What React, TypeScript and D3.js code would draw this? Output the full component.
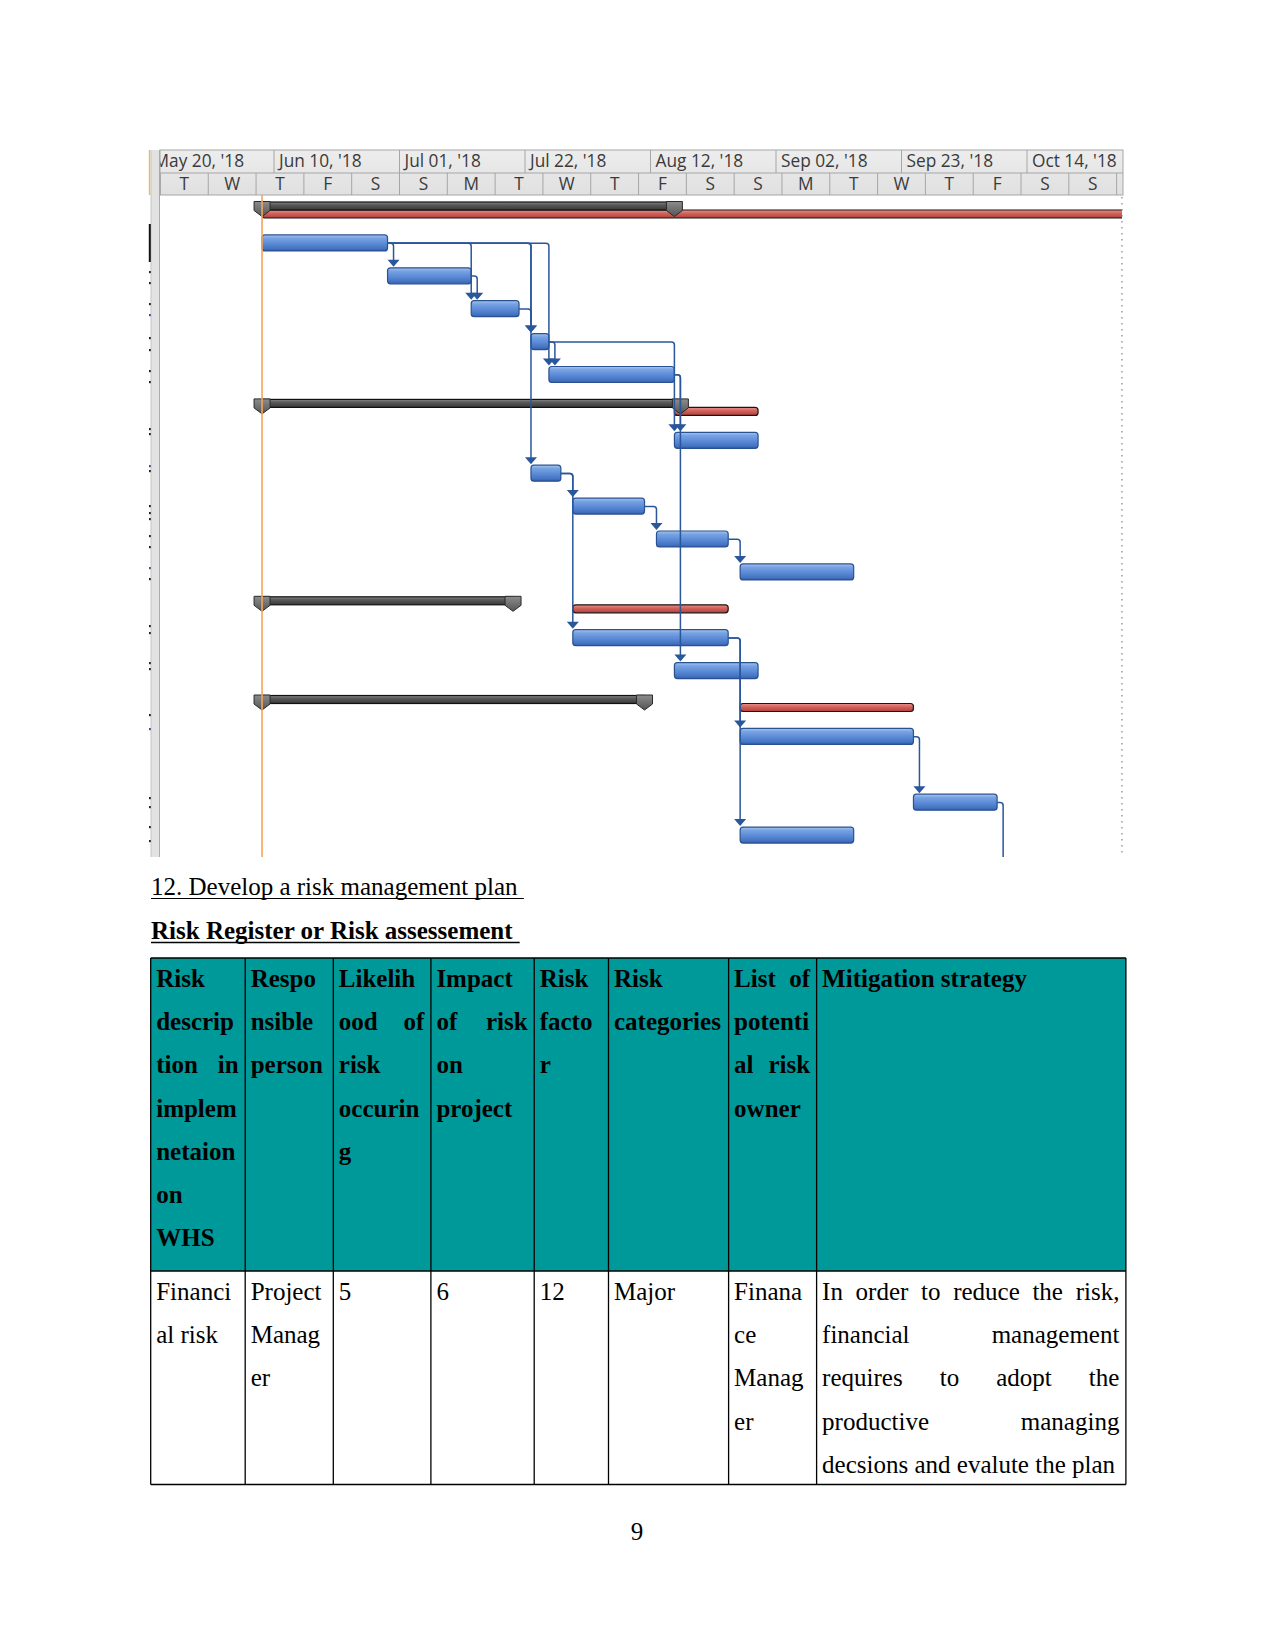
import React from "react";
import * as d3 from "d3";

// ---------- timescale data ----------
const majorTickDates = ["2018-05-20", "2018-06-10", "2018-07-01", "2018-07-22", "2018-08-12", "2018-09-02", "2018-09-23", "2018-10-14"];
const majorTickLabels = ["May 20, '18", "Jun 10, '18", "Jul 01, '18", "Jul 22, '18", "Aug 12, '18", "Sep 02, '18", "Sep 23, '18", "Oct 14, '18"];
const minorTickDates = ["2018-05-22", "2018-05-30", "2018-06-07", "2018-06-15", "2018-06-23", "2018-07-01", "2018-07-09", "2018-07-17", "2018-07-25", "2018-08-02", "2018-08-10", "2018-08-18", "2018-08-26", "2018-09-03", "2018-09-11", "2018-09-19", "2018-09-27", "2018-10-05", "2018-10-13", "2018-10-21", "2018-10-29"];
const minorTickLabels = ["T", "W", "T", "F", "S", "S", "M", "T", "W", "T", "F", "S", "S", "M", "T", "W", "T", "F", "S", "S", "M"];
const statusDate = "2018-06-08";

// ---------- tasks ----------
const taskRows = [1, 2, 3, 4, 5, 7, 8, 9, 10, 11, 13, 14, 16, 18, 19, 21];
const taskStarts = ["2018-06-08", "2018-06-29", "2018-07-13", "2018-07-23", "2018-07-26", "2018-08-16", "2018-07-23", "2018-07-30", "2018-08-13", "2018-08-27", "2018-07-30", "2018-08-16", "2018-08-27", "2018-09-25", "2018-08-27", "2018-10-10"];
const taskEnds = ["2018-06-29", "2018-07-13", "2018-07-21", "2018-07-26", "2018-08-16", "2018-08-30", "2018-07-28", "2018-08-11", "2018-08-25", "2018-09-15", "2018-08-25", "2018-08-30", "2018-09-25", "2018-10-09", "2018-09-15", "2018-10-20"];

// ---------- summary tasks ----------
const summaryRows = [0, 6, 12, 15];
const summaryStarts = ["2018-06-08", "2018-06-08", "2018-06-08", "2018-06-08"];
const summaryEnds = ["2018-08-16", "2018-08-17", "2018-07-20", "2018-08-11"];
const criticalStarts = ["2018-06-08", "2018-08-16", "2018-07-30", "2018-08-27"];
const criticalEnds = ["2018-11-05", "2018-08-30", "2018-08-25", "2018-09-25"];

// ---------- dependency links (predecessor row, successor row) ----------
const linkPreds = [1, 1, 2, 1, 3, 1, 4, 4, 5, 5, 1, 8, 8, 9, 10, 13, 13, 16, 18];
const linkSuccs = [2, 3, 3, 4, 4, 5, 5, 7, 7, 14, 8, 9, 13, 10, 11, 16, 19, 18, 21];

// ---------- table ----------
const headerCells = [
  ["Risk", "descrip", "tion in", "implem", "netaion", "on", "WHS"],
  ["Respo", "nsible", "person"],
  ["Likelih", "ood of", "risk", "occurin", "g"],
  ["Impact", "of risk", "on", "project"],
  ["Risk", "facto", "r"],
  ["Risk", "categories"],
  ["List of", "potenti", "al risk", "owner"],
  ["Mitigation strategy"],
];
const bodyCells = [
  ["Financi", "al risk"],
  ["Project", "Manag", "er"],
  ["5"],
  ["6"],
  ["12"],
  ["Major"],
  ["Finana", "ce", "Manag", "er"],
  ["In order to reduce the risk,", "financial management", "requires to adopt the", "productive managing", "decsions and evalute the plan"],
];
const sectionTitle = "12. Develop a risk management plan";
const tableTitle = "Risk Register or Risk assessement";
const pageNumber = "9";

// ---------- layout ----------
const parse = d3.timeParse("%Y-%m-%d");
const GX0 = 160, GX1 = 1123, HY0 = 150, HY1 = 173, HY2 = 195, GY1 = 857;
const x = d3.scaleTime().domain([parse("2018-06-10")!, parse("2018-10-14")!]).range([274, 1027]);
const rowTop = (i: number) => 202 + i * 32.9;

const colEdges = [150.7, 245.2, 333.3, 430.9, 534.2, 608.5, 728.6, 816.6, 1125.9];
const T_TOP = 958, T_MID = 1271, T_BOT = 1484.5;
const LINE_H = 43.2;
const SERIF = '"Liberation Serif", "Times New Roman", serif';
const HDR_FONT = '"Open Sans", sans-serif';

let _ctx: CanvasRenderingContext2D | null = null;
function measure(text: string, font: string): number {
  if (!_ctx) _ctx = document.createElement("canvas").getContext("2d");
  _ctx!.font = font;
  return _ctx!.measureText(text).width;
}

function CellLines({ lines, x0, x1, y0, bold }: { lines: string[]; x0: number; x1: number; y0: number; bold: boolean }) {
  const font = `${bold ? "bold " : ""}25px ${SERIF}`;
  const width = x1 - x0;
  const out: React.ReactNode[] = [];
  lines.forEach((line, li) => {
    const y = y0 + li * LINE_H;
    const words = line.split(" ");
    const justify = li < lines.length - 1 && words.length > 1;
    if (!justify) {
      out.push(
        <text key={li} x={x0} y={y} fontFamily={SERIF} fontSize={25} fontWeight={bold ? "bold" : "normal"} fill="#000">
          {line}
        </text>
      );
    } else {
      const ws = words.map((w) => measure(w, font));
      const total = ws.reduce((a, b) => a + b, 0);
      const gap = (width - total) / (words.length - 1);
      let cx = x0;
      words.forEach((w, wi) => {
        out.push(
          <text key={`${li}-${wi}`} x={cx} y={y} fontFamily={SERIF} fontSize={25} fontWeight={bold ? "bold" : "normal"} fill="#000">
            {w}
          </text>
        );
        cx += ws[wi] + gap;
      });
    }
  });
  return <g>{out}</g>;
}

const leftMarks = [271, 282, 303, 314, 337, 349, 370, 381, 428, 433, 465, 470, 505, 512, 518, 535, 546, 567, 578, 625, 632, 662, 668, 714, 728, 797, 806, 826, 840];

export default function App() {
  const fmt = (s: string) => x(parse(s)!);
  const taskByRow: Record<number, { s: number; e: number }> = {};
  taskRows.forEach((r, i) => (taskByRow[r] = { s: fmt(taskStarts[i]), e: fmt(taskEnds[i]) }));

  const titleFont = `25px ${SERIF}`;
  const titleBoldFont = `bold 25px ${SERIF}`;
  const t1w = measure(sectionTitle + " ", titleFont);
  const t2w = measure(tableTitle + " ", titleBoldFont);

  return (
    <svg width={1275} height={1651} style={{ position: "absolute", left: 0, top: 0, background: "#fff" }} xmlns="http://www.w3.org/2000/svg">
      <defs>
        <linearGradient id="blueBar" x1="0" y1="0" x2="0" y2="1">
          <stop offset="0" stopColor="#A9C6EF" />
          <stop offset="0.2" stopColor="#78A3E3" />
          <stop offset="0.55" stopColor="#5B8AD6" />
          <stop offset="0.85" stopColor="#4474C2" />
          <stop offset="1" stopColor="#335DA6" />
        </linearGradient>
        <linearGradient id="sumBar" x1="0" y1="0" x2="0" y2="1">
          <stop offset="0" stopColor="#8A8A8A" />
          <stop offset="0.35" stopColor="#5A5A5A" />
          <stop offset="1" stopColor="#383838" />
        </linearGradient>
        <linearGradient id="capFill" x1="0" y1="0" x2="0" y2="1">
          <stop offset="0" stopColor="#8C8C8C" />
          <stop offset="1" stopColor="#555" />
        </linearGradient>
        <linearGradient id="redBar" x1="0" y1="0" x2="0" y2="1">
          <stop offset="0" stopColor="#E8918A" />
          <stop offset="0.45" stopColor="#D0605A" />
          <stop offset="1" stopColor="#B2413C" />
        </linearGradient>
        <linearGradient id="hdr" x1="0" y1="0" x2="0" y2="1">
          <stop offset="0" stopColor="#EDEDED" />
          <stop offset="1" stopColor="#E0E0E0" />
        </linearGradient>
        <clipPath id="ganttClip">
          <rect x={GX0} y={HY2} width={1122 - GX0} height={GY1 - HY2} />
        </clipPath>
        <clipPath id="hdrClip">
          <rect x={GX0} y={HY0} width={GX1 - GX0} height={HY2 - HY0} />
        </clipPath>
      </defs>

      {/* left strip */}
      <rect x={151} y={HY0} width={9} height={GY1 - HY0} fill="#E2E2E2" />
      <line x1={151} x2={151} y1={HY0} y2={GY1} stroke="#C4C4C4" />
      <line x1={159.5} x2={159.5} y1={HY0} y2={GY1} stroke="#ABABAB" />
      <line x1={149.5} x2={149.5} y1={150} y2={195} stroke="#D8C070" strokeWidth={1.5} />
      <line x1={149.8} x2={149.8} y1={224} y2={262} stroke="#111" strokeWidth={2} />
      {leftMarks.map((m, i) => (
        <rect key={i} x={149} y={m} width={1.8} height={2.2} fill={i % 7 === 3 ? "#3A4F8A" : "#222"} />
      ))}

      {/* header */}
      <g clipPath="url(#hdrClip)">
        <rect x={GX0} y={HY0} width={GX1 - GX0} height={HY2 - HY0} fill="url(#hdr)" />
        {majorTickDates.map((d, i) => {
          const xx = fmt(d);
          return (
            <g key={d}>
              <line x1={xx} x2={xx} y1={HY0} y2={HY1} stroke="#A6A6A6" />
              <text x={xx + 5} y={167} fontFamily={HDR_FONT} fontSize={17.3} fill="#3A3A3A">
                {majorTickLabels[i]}
              </text>
            </g>
          );
        })}
        {minorTickDates.map((d, i) => {
          const xx = fmt(d);
          const nx = x(d3.timeDay.offset(parse(d)!, 8));
          return (
            <g key={d}>
              <line x1={xx} x2={xx} y1={HY1} y2={HY2} stroke="#A6A6A6" />
              <text x={(xx + nx) / 2} y={190} textAnchor="middle" fontFamily={HDR_FONT} fontSize={17.3} fill="#3A3A3A">
                {minorTickLabels[i]}
              </text>
            </g>
          );
        })}
      </g>
      <rect x={GX0} y={HY0} width={GX1 - GX0} height={HY2 - HY0} fill="none" stroke="#A6A6A6" />
      <line x1={GX0} x2={GX1} y1={HY1} y2={HY1} stroke="#A6A6A6" />

      {/* gantt body */}
      <g clipPath="url(#ganttClip)">
        {summaryRows.map((r, i) => {
          const x0 = fmt(criticalStarts[i]);
          const x1 = fmt(criticalEnds[i]);
          const t = rowTop(r);
          return <rect key={"c" + r} x={x0} y={t + 8} width={x1 - x0} height={8} rx={3} fill="url(#redBar)" stroke="#1E1414" strokeWidth={1.2} />;
        })}
        {summaryRows.map((r, i) => {
          const x0 = fmt(summaryStarts[i]);
          const x1 = fmt(summaryEnds[i]);
          const t = rowTop(r);
          const cap = (cx: number) => `${cx - 8},${t - 0.5} ${cx + 8},${t - 0.5} ${cx + 8},${t + 8.5} ${cx},${t + 14.5} ${cx - 8},${t + 8.5}`;
          return (
            <g key={"s" + r}>
              <rect x={x0} y={t} width={x1 - x0} height={8} fill="url(#sumBar)" stroke="#111" strokeWidth={1.2} />
              <polygon points={cap(x0)} fill="url(#capFill)" stroke="#2A2A2A" strokeWidth={1} />
              <polygon points={cap(x1)} fill="url(#capFill)" stroke="#2A2A2A" strokeWidth={1} />
            </g>
          );
        })}
        {taskRows.map((r, i) => {
          const x0 = fmt(taskStarts[i]);
          const x1 = fmt(taskEnds[i]);
          return <rect key={"t" + r} x={x0} y={rowTop(r)} width={x1 - x0} height={16} rx={3} fill="url(#blueBar)" stroke="#2A5190" strokeWidth={1.2} />;
        })}
        <line x1={fmt(statusDate)} x2={fmt(statusDate)} y1={HY2} y2={GY1} stroke="#F3A55E" strokeWidth={1.6} />
        {linkPreds.map((p, i) => {
          const s = linkSuccs[i];
          const px = taskByRow[p].e;
          const py = rowTop(p) + 8.3;
          const vx = Math.max(taskByRow[s].s, px + 6);
          const sy = rowTop(s) - 1;
          const d = `M${px},${py} H${vx - 3} Q${vx},${py} ${vx},${py + 3} V${sy - 6}`;
          return (
            <g key={"l" + i}>
              <path d={d} fill="none" stroke="#2A579C" strokeWidth={1.5} />
              <polygon points={`${vx - 6},${sy - 7} ${vx + 6},${sy - 7} ${vx},${sy}`} fill="#2A579C" />
            </g>
          );
        })}
      </g>
      <line x1={1122} x2={1122} y1={HY2 + 2} y2={GY1} stroke="#8C8C8C" strokeWidth={1.3} strokeDasharray="1.5 4.5" />

      {/* titles */}
      <text x={151} y={895} fontFamily={SERIF} fontSize={25} fill="#000">{sectionTitle}</text>
      <line x1={151} x2={151 + t1w} y1={898.5} y2={898.5} stroke="#000" strokeWidth={1.2} />
      <text x={151} y={939} fontFamily={SERIF} fontSize={25} fontWeight="bold" fill="#000">{tableTitle}</text>
      <line x1={151} x2={151 + t2w} y1={942.5} y2={942.5} stroke="#000" strokeWidth={1.6} />

      {/* table */}
      <rect x={colEdges[0]} y={T_TOP} width={colEdges[8] - colEdges[0]} height={T_MID - T_TOP} fill="#009999" />
      {headerCells.map((lines, c) => (
        <CellLines key={"h" + c} lines={lines} x0={colEdges[c] + 5.5} x1={colEdges[c + 1] - 6.5} y0={987} bold={true} />
      ))}
      {bodyCells.map((lines, c) => (
        <CellLines key={"b" + c} lines={lines} x0={colEdges[c] + 5.5} x1={colEdges[c + 1] - 6.5} y0={1300} bold={false} />
      ))}
      {colEdges.map((cx, i) => (
        <line key={"v" + i} x1={cx} x2={cx} y1={T_TOP} y2={T_BOT} stroke="#000" strokeWidth={1.3} />
      ))}
      {[T_TOP, T_MID, T_BOT].map((yy, i) => (
        <line key={"hz" + i} x1={colEdges[0]} x2={colEdges[8]} y1={yy} y2={yy} stroke="#000" strokeWidth={1.3} />
      ))}

      <text x={637} y={1540} textAnchor="middle" fontFamily={SERIF} fontSize={25} fill="#000">{pageNumber}</text>
    </svg>
  );
}
